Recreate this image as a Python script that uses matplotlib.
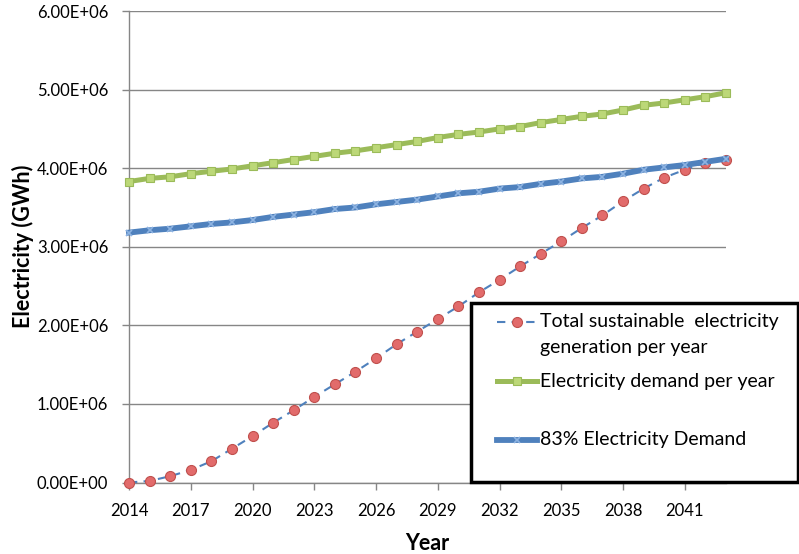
"""
Sustainable generation vs electricity demand, 2014-2043 (Excel-style line chart).
"""
import numpy as np
import matplotlib.pyplot as plt
from matplotlib.lines import Line2D
from matplotlib.patches import Rectangle
from matplotlib.ticker import FuncFormatter, FixedLocator

plt.rcParams["font.family"] = ["Lato", "DejaVu Sans"]

years = list(range(2014, 2044))
tick_years = list(range(2014, 2043, 3))

# values in millions of GWh
generation = [0.00, 0.02, 0.08, 0.16, 0.27, 0.43, 0.59, 0.76, 0.92, 1.09,
              1.25, 1.41, 1.58, 1.76, 1.92, 2.08, 2.24, 2.42, 2.58, 2.75,
              2.91, 3.07, 3.24, 3.40, 3.58, 3.74, 3.88, 3.98, 4.07, 4.11]
demand = [3.83, 3.87, 3.89, 3.93, 3.96, 3.99, 4.03, 4.07, 4.11, 4.15,
          4.19, 4.22, 4.26, 4.30, 4.34, 4.39, 4.43, 4.46, 4.50, 4.53,
          4.58, 4.62, 4.66, 4.69, 4.74, 4.80, 4.83, 4.87, 4.91, 4.96]
demand_83 = [3.18, 3.21, 3.23, 3.26, 3.29, 3.31, 3.34, 3.38, 3.41, 3.44,
             3.48, 3.50, 3.54, 3.57, 3.60, 3.64, 3.68, 3.70, 3.74, 3.76,
             3.80, 3.83, 3.87, 3.89, 3.93, 3.98, 4.01, 4.04, 4.08, 4.12]

labels = ["Total sustainable  electricity\ngeneration per year",
          "Electricity demand per year",
          "83% Electricity Demand"]

GRID = "#868686"
RED, RED_EDGE = "#E26B6B", "#C0504D"
GREEN, GREEN_FILL = "#9BBB59", "#BCD878"
BLUE, BLUE_MK = "#4F81BD", "#8DB3E2"

W, H = 799, 554
fig = plt.figure(figsize=(W / 100, H / 100), dpi=100)
ax = fig.add_axes([129 / W, 1 - 482.5 / H, (726 - 129) / W, (482.5 - 11) / H])

gen = np.array(generation) * 1e6
dem = np.array(demand) * 1e6
d83 = np.array(demand_83) * 1e6

red_kw = dict(color=BLUE, lw=1.5, ls=(0, (4, 3)), marker="o", ms=7.2,
              mfc=RED, mec=RED_EDGE, mew=0.8)
green_kw = dict(color=GREEN, lw=3.6, marker="s", ms=5.6,
                mfc=GREEN_FILL, mec=GREEN, mew=0.8)
blue_kw = dict(color=BLUE, lw=4.2, marker="x", ms=5.0, mec=BLUE_MK, mew=1.2)

ax.plot(years, gen, zorder=3, clip_on=False, **red_kw)
ax.plot(years, dem, zorder=4, clip_on=False, **green_kw)
ax.plot(years, d83, zorder=5, clip_on=False, **blue_kw)

ax.set_xlim(2014, 2043)
ax.set_ylim(0, 6e6)
ax.xaxis.set_major_locator(FixedLocator(tick_years))
ax.set_yticks(np.arange(0, 6.01e6, 1e6))
ax.yaxis.set_major_formatter(FuncFormatter(lambda v, p: f"{v:.2E}"))

ax.grid(axis="y", color=GRID, lw=1.0)
ax.set_axisbelow(True)
for s in ["top", "right"]:
    ax.spines[s].set_visible(False)
for s in ["left", "bottom"]:
    ax.spines[s].set_color(GRID)
    ax.spines[s].set_linewidth(1.0)
ax.tick_params(axis="both", colors=GRID, labelcolor="black", labelsize=12,
               length=5, width=1.0)
ax.tick_params(axis="y", pad=10)
ax.tick_params(axis="x", pad=10)

ax.set_xlabel("Year", fontsize=15.5, fontweight="bold", labelpad=10)
ax.set_ylabel("Electricity (GWh)", fontsize=15.5, fontweight="bold", labelpad=2)

# legend box, drawn in figure pixels like the Excel one
def fy(y):
    return 1 - y / H

fig.add_artist(Rectangle((471 / W, fy(482)), (797.5 - 471) / W, (482 - 303) / H,
                         transform=fig.transFigure, facecolor="white",
                         edgecolor="black", lw=2.5, zorder=10))
rows = [(322, red_kw), (381, green_kw), (440, blue_kw)]
for y, kw in rows:
    fig.add_artist(Line2D([497 / W, 537 / W], [fy(y), fy(y)],
                          transform=fig.transFigure, zorder=11,
                          **{k: v for k, v in kw.items()
                             if k in ("color", "lw", "ls")}))
    fig.add_artist(Line2D([517 / W], [fy(y)], transform=fig.transFigure,
                          zorder=12, ls="none", marker=kw["marker"],
                          **{k: v for k, v in kw.items()
                             if k in ("ms", "mfc", "mec", "mew")}))

text_y = [(322, labels[0].split("\n")[0]), (347, labels[0].split("\n")[1]),
          (381, labels[1]), (440, labels[2])]
for y, t in text_y:
    fig.text(540 / W, fy(y), t, fontsize=14, va="center", ha="left", zorder=13)

fig.savefig("out.png", dpi=100)
